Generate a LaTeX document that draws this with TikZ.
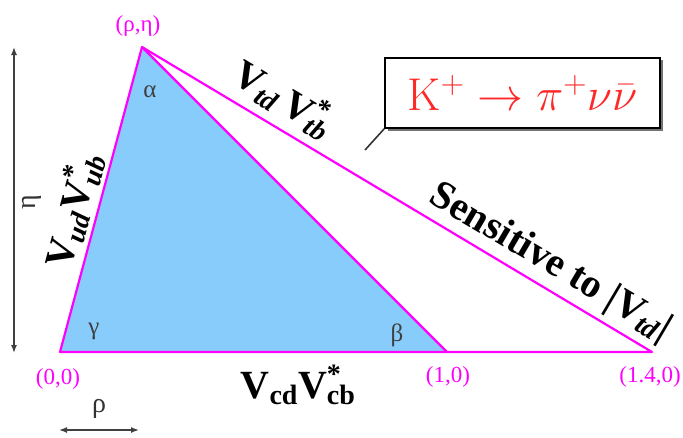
\RequirePackage{fix-cm}
\documentclass[tikz,border=0pt]{standalone}
\usepackage{fontspec}
\setmainfont{Liberation Serif}
\newfontfamily\lmfont{Latin Modern Roman}
\usetikzlibrary{arrows.meta}
\definecolor{skyfill}{RGB}{135,204,250}
\definecolor{kred}{RGB}{255,40,40}
\definecolor{mag}{RGB}{255,0,255}
\begin{document}
\begin{tikzpicture}[x=1pt,y=-1pt,
  side/.style={draw=mag, line width=2.2pt, line join=round},
  coordlbl/.style={text=mag, font=\fontsize{23}{23}\selectfont, inner sep=0},
  anglbl/.style={text=black!75, font=\fontsize{25}{25}\selectfont, inner sep=0},
  vlbl/.style={font=\bfseries\fontsize{40}{40}\selectfont, inner sep=0},
  axis/.style={draw=black!75, line width=1.4pt, {Latex[length=8pt,width=6pt]}-{Latex[length=8pt,width=6pt]}},
  axlbl/.style={text=black!80, font=\fontsize{28}{28}\selectfont, inner sep=0},
  kbox/.style={draw=black, line width=1.6pt, minimum width=275pt, minimum height=70pt, inner sep=0, text=kred}]
\useasboundingbox (0,0) rectangle (683,437);
% vertices
\coordinate (O) at (60,352);
\coordinate (A) at (142,47);
\coordinate (B) at (447,352);
\coordinate (C) at (652,352);
% triangles
\fill[skyfill] (O) -- (A) -- (B) -- cycle;
\draw[side] (O) -- (A) -- (C) -- cycle;
\draw[side] (A) -- (B);
% vertex labels
\node[coordlbl] (lA) at (138,26) {(ρ,η)};
\node[coordlbl] (lO) at (58,379) {(0,0)};
\node[coordlbl] (lB) at (448,377) {(1,0)};
\node[coordlbl] (lC) at (650,377) {(1.4,0)};
% angles
\node[anglbl] (alpha) at (150,92) {α};
\node[anglbl] (gamma) at (94,331) {γ};
\node[anglbl] (beta) at (397,335) {β};
% axes
\coordinate (etaTop) at (14,47);
\coordinate (etaBot) at (14,353);
\draw[axis] (etaTop) -- (etaBot);
\node[axlbl, rotate=90] (eta) at (32,202) {η};
\coordinate (rhoL) at (59,430);
\coordinate (rhoR) at (139,430);
\draw[axis] (rhoL) -- (rhoR);
\node[axlbl] (rho) at (99,409) {ρ};
% side labels
\node[vlbl, rotate=75] (lud) at (73,210) {V\textsubscript{\itshape ud}V\rlap{\textsuperscript{*}}\textsubscript{\itshape ub}};
\node[vlbl, rotate=-31] (ltd) at (284,98) {V\textsubscript{\itshape td}\,V\rlap{\textsuperscript{*}}\textsubscript{\itshape tb}};
\node[vlbl] (lcd) at (298,385) {V\textsubscript{cd}V\rlap{\textsuperscript{*}}\textsubscript{cb}};
\node[vlbl, rotate=-30.5, font=\bfseries\fontsize{40}{40}\selectfont] (sens) at (550,263) {Sensitive to |V\textsubscript{\itshape td}|};
% box
\fill[black!55] (388,60) rectangle (663,131);
\node[kbox, fill=white] (kbox) at (522.5,93) {\fontsize{46}{46}\selectfont {\lmfont K}$^+\rightarrow\pi^+\nu\bar{\nu}$};
\coordinate (ktail) at (365,150);
\draw[black!80, line width=1.6pt] (kbox.south west) -- (ktail);
\end{tikzpicture}
\end{document}
